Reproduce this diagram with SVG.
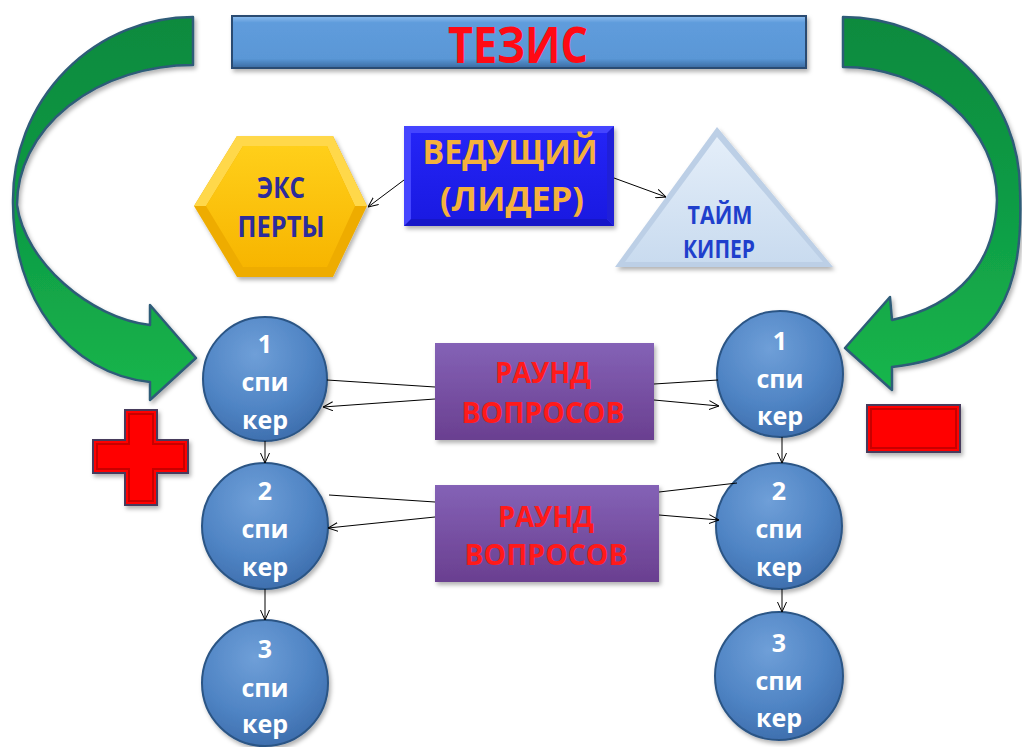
<svg xmlns="http://www.w3.org/2000/svg" width="1022" height="747" viewBox="0 0 1022 747">
<defs>
  <filter id="sh" x="-20%" y="-20%" width="140%" height="150%">
    <feDropShadow dx="2" dy="3" stdDeviation="2.2" flood-color="#000" flood-opacity="0.3"/>
  </filter>
  <linearGradient id="gTitle" x1="0" y1="0" x2="0" y2="1">
    <stop offset="0" stop-color="#8dbdee"/>
    <stop offset="0.13" stop-color="#5f9cdc"/>
    <stop offset="0.82" stop-color="#5a97d6"/>
    <stop offset="1" stop-color="#3a6aa0"/>
  </linearGradient>
  <linearGradient id="gGreenL" x1="0" y1="17" x2="0" y2="400" gradientUnits="userSpaceOnUse">
    <stop offset="0" stop-color="#0c8a3e"/>
    <stop offset="0.5" stop-color="#0e9a44"/>
    <stop offset="1" stop-color="#17b64c"/>
  </linearGradient>
  <linearGradient id="gGreenR" x1="0" y1="17" x2="0" y2="390" gradientUnits="userSpaceOnUse">
    <stop offset="0" stop-color="#0c8a3e"/>
    <stop offset="0.5" stop-color="#0f9c45"/>
    <stop offset="1" stop-color="#17b64c"/>
  </linearGradient>
  <radialGradient id="gCircle" cx="0.42" cy="0.3" r="0.75">
    <stop offset="0" stop-color="#6f9fd8"/>
    <stop offset="0.6" stop-color="#4f84c4"/>
    <stop offset="1" stop-color="#3c6cab"/>
  </radialGradient>
  <linearGradient id="gPurple" x1="0" y1="0" x2="0" y2="1">
    <stop offset="0" stop-color="#8462b6"/>
    <stop offset="1" stop-color="#6a3f90"/>
  </linearGradient>
  <linearGradient id="gBlue" x1="0" y1="0" x2="0" y2="1">
    <stop offset="0" stop-color="#2424f6"/>
    <stop offset="1" stop-color="#1a1ae2"/>
  </linearGradient>
  <linearGradient id="gGold" x1="0" y1="0" x2="0" y2="1">
    <stop offset="0" stop-color="#ffcf1a"/>
    <stop offset="1" stop-color="#f7b500"/>
  </linearGradient>
  <linearGradient id="gTri" x1="0" y1="0" x2="0" y2="1">
    <stop offset="0" stop-color="#e4eef9"/>
    <stop offset="1" stop-color="#c9dbef"/>
  </linearGradient>
  <marker id="ah" viewBox="0 0 10 10" refX="10" refY="5" markerWidth="10" markerHeight="10" markerUnits="userSpaceOnUse" orient="auto">
    <path d="M0,0.5 L10,5 L0,9.5" fill="none" stroke="#000" stroke-width="1"/>
  </marker>
  <style>
    text { font-family: "Open Sans", "Noto Sans", "DejaVu Sans", sans-serif; font-weight: bold; text-anchor: middle; }
    .spk { fill: #ffffff; font-size: 25px; }
    .circ { fill: url(#gCircle); stroke: #2c5585; stroke-width: 2; filter: url(#sh); }
    .red { fill: #ff1a1a; font-size: 29px; }
    .con { stroke: #000; stroke-width: 1; fill: none; }
    .arr { stroke: #000; stroke-width: 1; fill: none; marker-end: url(#ah); }
    .green { stroke: #2e5c78; stroke-width: 2.5; stroke-linejoin: round; }
  </style>
</defs>

<rect width="1022" height="747" fill="#ffffff"/>

<!-- big curved arrows -->
<g id="flow-arrows">
  <path id="arrow-left" class="green" fill="url(#gGreenL)" filter="url(#sh)"
    d="M193,17 A180,183 0 0 0 13,200 C12,300 70,374 150,382 L150,400 L196,358 L150,305 L150,325 C90,318 25,262 17,205 A176,140 0 0 1 193,65 Z"/>
  <path id="arrow-right" class="green" fill="url(#gGreenR)" filter="url(#sh)"
    d="M843,17 A177,173 0 0 1 1020,190 C1024,290 1000,355 892,367 L892,390 L845,348 L890,297 L892,320 C960,305 995,262 997,200 A154,133 0 0 0 843,67 Z"/>
</g>

<!-- title -->
<g id="thesis">
  <rect x="232" y="16" width="574" height="52" fill="url(#gTitle)" stroke="#2a4c72" stroke-width="2" filter="url(#sh)"/>
  <text x="518" y="63" fill="#ff0a14" font-size="50" textLength="140" lengthAdjust="spacingAndGlyphs">ТЕЗИС</text>
</g>

<!-- leader -->
<g id="leader">
  <rect x="404" y="126" width="210" height="100" fill="#4444ff" filter="url(#sh)"/>
  <polygon points="404,226 411,219 607,219 614,226" fill="#1616c8"/>
  <polygon points="614,126 607,133 607,219 614,226" fill="#2020d8"/>
  <rect x="411" y="133" width="196" height="86" fill="url(#gBlue)"/>
  <text x="510" y="164" fill="#f4b13c" font-size="34" textLength="175" lengthAdjust="spacingAndGlyphs">ВЕДУЩИЙ</text>
  <text x="512" y="211" fill="#f4b13c" font-size="34" textLength="144" lengthAdjust="spacingAndGlyphs">(ЛИДЕР)</text>
</g>

<!-- experts -->
<g id="experts">
  <polygon points="194,206 237,136 333,136 367,206 333,277 237,277" fill="#eeac00" filter="url(#sh)"/>
  <polygon points="194,206 237,136 333,136 367,206 355,206 327,146 243,146 206,206" fill="#ffd84a"/>
  <polygon points="206,206 243,146 327,146 355,206 327,267 243,267" fill="url(#gGold)"/>
  <text x="281" y="198" fill="#2c2c9c" font-size="28" textLength="48" lengthAdjust="spacingAndGlyphs">ЭКС</text>
  <text x="281" y="237" fill="#2c2c9c" font-size="28" textLength="87" lengthAdjust="spacingAndGlyphs">ПЕРТЫ</text>
</g>

<!-- timekeeper -->
<g id="timekeeper">
  <polygon points="717,127 833,267 615,267" fill="#bccfe6" filter="url(#sh)"/>
  <polygon points="717,137 823,262 625,262" fill="url(#gTri)"/>
  <text x="720" y="224" fill="#1f3fcc" font-size="25" textLength="65" lengthAdjust="spacingAndGlyphs">ТАЙМ</text>
  <text x="719" y="258" fill="#1f3fcc" font-size="25" textLength="72" lengthAdjust="spacingAndGlyphs">КИПЕР</text>
</g>

<!-- plus / minus -->
<g id="plus">
  <path d="M125,410 H157 V440 H188 V473 H157 V505 H125 V473 H93 V440 H125 Z" fill="#ff0000" stroke="#463a5c" stroke-width="2" filter="url(#sh)"/>
  <path d="M129,414 H153 V444 H184 V469 H153 V501 H129 V469 H97 V444 H129 Z" fill="none" stroke="#c80000" stroke-width="2"/>
</g>
<g id="minus">
  <rect x="867" y="405" width="93" height="47" fill="#ff0000" stroke="#463a5c" stroke-width="2" filter="url(#sh)"/>
  <rect x="871" y="409" width="85" height="39" fill="none" stroke="#c80000" stroke-width="2"/>
</g>

<!-- rounds -->
<g id="round-1">
  <rect x="435" y="343" width="219" height="97" fill="url(#gPurple)" filter="url(#sh)"/>
  <text class="red" x="543" y="383" textLength="96" lengthAdjust="spacingAndGlyphs">РАУНД</text>
  <text class="red" x="543" y="423" textLength="163" lengthAdjust="spacingAndGlyphs">ВОПРОСОВ</text>
</g>
<g id="round-2">
  <rect x="435" y="485" width="224" height="97" fill="url(#gPurple)" filter="url(#sh)"/>
  <text class="red" x="546" y="527" textLength="96" lengthAdjust="spacingAndGlyphs">РАУНД</text>
  <text class="red" x="546" y="565" textLength="163" lengthAdjust="spacingAndGlyphs">ВОПРОСОВ</text>
</g>

<!-- speakers, pro side -->
<g id="pro-1">
  <circle class="circ" cx="265" cy="379" r="62"/>
  <text class="spk" x="265" y="353">1</text>
  <text class="spk" x="265" y="391">спи</text>
  <text class="spk" x="265" y="429">кер</text>
</g>
<g id="pro-2">
  <circle class="circ" cx="265" cy="526" r="63"/>
  <text class="spk" x="265" y="500">2</text>
  <text class="spk" x="265" y="538">спи</text>
  <text class="spk" x="265" y="576">кер</text>
</g>
<g id="pro-3">
  <circle class="circ" cx="265" cy="683" r="63"/>
  <text class="spk" x="265" y="658">3</text>
  <text class="spk" x="265" y="697">спи</text>
  <text class="spk" x="265" y="733">кер</text>
</g>

<!-- speakers, con side -->
<g id="con-1">
  <circle class="circ" cx="780" cy="374" r="63"/>
  <text class="spk" x="780" y="350">1</text>
  <text class="spk" x="780" y="388">спи</text>
  <text class="spk" x="780" y="425">кер</text>
</g>
<g id="con-2">
  <circle class="circ" cx="779" cy="526" r="63"/>
  <text class="spk" x="779" y="500">2</text>
  <text class="spk" x="779" y="538">спи</text>
  <text class="spk" x="779" y="576">кер</text>
</g>
<g id="con-3">
  <circle class="circ" cx="779" cy="676" r="64"/>
  <text class="spk" x="779" y="652">3</text>
  <text class="spk" x="779" y="690">спи</text>
  <text class="spk" x="779" y="727">кер</text>
</g>

<!-- connectors -->
<g id="connectors">
  <line class="arr" x1="404" y1="180" x2="368" y2="207"/>
  <line class="arr" x1="614" y1="178" x2="666" y2="197"/>

  <line class="con" x1="327" y1="380" x2="435" y2="387"/>
  <line class="arr" x1="435" y1="399" x2="323" y2="407"/>
  <line class="con" x1="654" y1="384" x2="718" y2="380"/>
  <line class="arr" x1="654" y1="400" x2="719" y2="406"/>

  <line class="con" x1="329" y1="495" x2="435" y2="502"/>
  <line class="arr" x1="435" y1="517" x2="328" y2="528"/>
  <line class="con" x1="659" y1="492" x2="737" y2="483"/>
  <line class="arr" x1="659" y1="515" x2="719" y2="520"/>

  <line class="arr" x1="265" y1="441" x2="265" y2="463"/>
  <line class="arr" x1="265" y1="589" x2="265" y2="620"/>
  <line class="arr" x1="782" y1="437" x2="782" y2="463"/>
  <line class="arr" x1="782" y1="589" x2="782" y2="612"/>
</g>
</svg>
